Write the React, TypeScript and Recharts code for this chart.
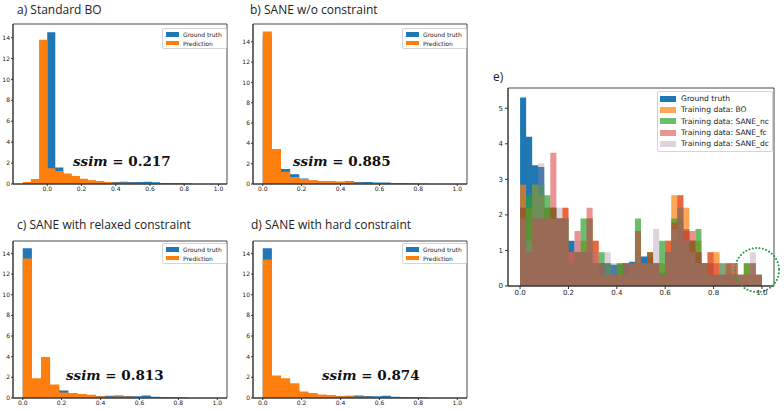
import { ComposedChart, Area, XAxis, YAxis, Legend, ReferenceDot, ReferenceArea } from 'recharts'

// shared ticks
const X_TICKS = [0, 0.2, 0.4, 0.6, 0.8, 1.0]
const SMALL_Y_TICKS = [0, 2, 4, 6, 8, 10, 12, 14]
const E_Y_TICKS = [0, 1, 2, 3, 4, 5]

// panels a-d: bins of the ground truth histogram (density)
const GT_START = 0
const GT_STEP = 0.047

const gtA = [14.5, 1.57, 0.9, 0.6, 0.4, 0.3, 0.25, 0.2, 0.18, 0.22, 0.2, 0.19, 0.22, 0.17, 0.1, 0.08, 0.06, 0.05]
const predA = [0.19, 0.48, 13.8, 1.5, 1.25, 1.0, 0.77, 0.51, 0.35, 0.29, 0.19, 0.13, 0.13, 0.13, 0.1, 0.1, 0.07, 0.04, 0.03, 0.02]

const gtB = [14.5, 1.57, 1.48, 0.95, 0.55, 0.35, 0.3, 0.25, 0.22, 0.26, 0.2, 0.2, 0.16, 0.16, 0.07, 0.07, 0.05, 0.03]
const predB = [15, 3.45, 1.2, 0.7, 0.5, 0.36, 0.3, 0.27, 0.23, 0.2, 0.12, 0.1, 0.08, 0.06, 0.04, 0.02, 0.01, 0]

const gtC = [14.5, 1.57, 1.2, 0.9, 0.73, 0.4, 0.3, 0.24, 0.2, 0.22, 0.24, 0.2, 0.18, 0.24, 0.12, 0.08, 0.06, 0.05]
const predC = [13.5, 1.92, 3.96, 1.31, 0.54, 0.48, 0.38, 0.32, 0.16, 0.13, 0.15, 0.15, 0.1, 0.1, 0.07, 0.05, 0.03, 0.02]

const gtD = [14.5, 1.57, 1.2, 0.9, 0.5, 0.4, 0.3, 0.24, 0.2, 0.22, 0.24, 0.2, 0.18, 0.22, 0.12, 0.08, 0.06, 0.05]
const predD = [13.4, 2.17, 1.92, 1.44, 0.64, 0.48, 0.35, 0.26, 0.16, 0.16, 0.13, 0.13, 0.1, 0.1, 0.08, 0.05, 0.03, 0.02]

// panel e: 40 bins of 0.025 from 0 to 1
const E_STEP = 0.025
const eGT = [5.3, 4.2, 3.4, 3.35, 2.2, 2.2, 1.9, 1.9, 1.27, 0.95, 0.95, 0.95, 0.64, 0.64, 0.64, 0.6, 0.6, 0.64, 0.68, 0.64, 0.83, 0.83, 0.64, 0.38, 0.95, 1.27, 1.9, 1.6, 1.27, 0.95, 0.64, 0.64, 0.32, 0.32, 0.32, 0.32, 0.06, 0.06, 0.06, 0.06]
const eBO = [2.85, 2.2, 2.85, 2.55, 2.2, 2.2, 1.9, 2.2, 0.95, 0.95, 1.27, 1.9, 1.27, 0.32, 0.32, 0.32, 0.64, 0.32, 0.64, 0.95, 0.64, 0.95, 0.64, 0.64, 1.27, 2.55, 2.55, 2.2, 1.27, 1.27, 0.64, 0.95, 0.95, 0.32, 0.32, 0.64, 0.32, 0.64, 0.32, 0.32]
const eNC = [2.2, 2.55, 2.85, 2.85, 2.55, 2.2, 1.9, 1.9, 0.64, 0.95, 1.9, 1.9, 0.64, 0.95, 0.64, 0.32, 0.64, 0.64, 0.64, 1.9, 0.64, 0.95, 0.64, 1.27, 0.95, 1.9, 2.2, 1.27, 1.27, 1.6, 0.64, 0.32, 0.32, 0.64, 0.64, 0.32, 0.32, 0.64, 0.64, 0.32]
const eFC = [2.2, 0.95, 1.9, 1.9, 1.9, 3.75, 1.9, 2.2, 0.95, 1.55, 0.95, 2.2, 1.27, 0.64, 0.32, 0.32, 0.32, 0.64, 0.64, 1.55, 0.64, 0.95, 0.64, 0.32, 1.27, 1.78, 2.55, 1.55, 1.55, 0.95, 0.64, 0.95, 0.64, 0.32, 0.64, 0.64, 0.32, 0.32, 0.64, 0.32]
const eDC = [1.9, 1.27, 2.85, 3.45, 1.9, 1.9, 2.2, 1.9, 0.95, 1.27, 0.95, 1.9, 0.95, 0.64, 0.95, 0.64, 0.32, 0.64, 0.64, 0.95, 0.64, 0.64, 1.6, 0.32, 0.95, 1.6, 2.2, 1.27, 0.95, 0.64, 0.64, 0.32, 0.32, 0.64, 0.32, 0.64, 0.32, 0.32, 0.95, 0.32]

const BLUE = '#1f77b4'
const ORANGE = '#ff7f0e'
const AXIS = '#333'
const SANS = 'DejaVu Sans'

type Hist = { key: string; start: number; step: number; values: number[] }
type Row = { x: number; [k: string]: number }

// step-histogram rows: one point per bin edge, closing edge drops to 0
function histRows(hists: Hist[]): Row[] {
  const byX = new Map<number, Row>()
  for (const h of hists) {
    ;[...h.values, 0].forEach((v, i) => {
      const x = Math.round((h.start + i * h.step) * 1e4) / 1e4
      const row = byX.get(x) ?? { x }
      row[h.key] = v
      byX.set(x, row)
    })
  }
  return [...byX.values()].sort((a, b) => a.x - b.x)
}

const fmt1 = (v: number) => v.toFixed(1)

type LegendItem = { name: string; color: string; opacity: number }

function LegendBox(props: {
  items: LegendItem[]
  fontSize: number
  rowH: number
  patchW: number
  patchH: number
  padX: number
  gap: number
}) {
  const { items, fontSize, rowH, patchW, patchH, padX, gap } = props
  return (
    <div
      style={{
        background: 'rgba(255,255,255,0.85)',
        border: '1px solid #d4d4d4',
        borderRadius: 2,
        padding: `1px ${padX + 1}px 1px ${padX}px`,
        fontFamily: SANS,
        fontSize,
        color: '#222',
      }}
    >
      {items.map((it) => (
        <div key={it.name} style={{ display: 'flex', alignItems: 'center', height: rowH, whiteSpace: 'nowrap' }}>
          <span
            style={{
              display: 'inline-block',
              width: patchW,
              height: patchH,
              background: it.color,
              opacity: it.opacity,
              marginRight: gap,
            }}
          />
          {it.name}
        </div>
      ))}
    </div>
  )
}

const SMALL_LEGEND: LegendItem[] = [
  { name: 'Ground truth', color: BLUE, opacity: 1 },
  { name: 'Prediction', color: ORANGE, opacity: 1 },
]

type PanelSpec = {
  left: number
  top: number
  height: number
  title: string
  titleX: number
  titleY: number
  ssim: string
  ssimX: number
  ssimY: number
  legendTop: number
  xDomain: [number, number]
  yMax: number
  gt: number[]
  pred: number[]
  predStart: number
  predStep: number
}

const PANELS: PanelSpec[] = [
  { left: 0, top: 0, height: 196, title: 'a) Standard BO', titleX: 17, titleY: 2, ssim: '0.217', ssimX: 73, ssimY: 161, legendTop: 28, xDomain: [-0.2, 1.05], yMax: 15.3, gt: gtA, pred: predA, predStart: -0.143, predStep: 0.0477 },
  { left: 240, top: 0, height: 196, title: 'b) SANE w/o constraint', titleX: 10, titleY: 2, ssim: '0.885', ssimX: 53, ssimY: 161, legendTop: 28, xDomain: [-0.05, 1.05], yMax: 15.75, gt: gtB, pred: predB, predStart: 0, predStep: GT_STEP },
  { left: 0, top: 217, height: 193, title: 'c) SANE with relaxed constraint', titleX: 17, titleY: 0, ssim: '0.813', ssimX: 66, ssimY: 158, legendTop: 26, xDomain: [-0.05, 1.05], yMax: 15.2, gt: gtC, pred: predC, predStart: 0, predStep: GT_STEP },
  { left: 240, top: 217, height: 193, title: 'd) SANE with hard constraint', titleX: 11, titleY: 0, ssim: '0.874', ssimX: 82, ssimY: 158, legendTop: 26, xDomain: [-0.05, 1.05], yMax: 15.2, gt: gtD, pred: predD, predStart: 0, predStep: GT_STEP },
]

const titleStyle = (x: number, y: number): React.CSSProperties => ({
  position: 'absolute',
  left: x,
  top: y,
  fontFamily: '"Open Sans"',
  fontSize: 12,
  lineHeight: '16px',
  color: '#222',
  whiteSpace: 'nowrap',
})

// full matplotlib-style box around the plot area
function frame(xDomain: [number, number], yMax: number) {
  return (
    <ReferenceArea
      x1={xDomain[0]}
      x2={xDomain[1]}
      y1={0}
      y2={yMax}
      ifOverflow="visible"
      fill="none"
      fillOpacity={0}
      stroke={AXIS}
      strokeWidth={0.9}
    />
  )
}

function SmallPanel({ p }: { p: PanelSpec }) {
  const rows = histRows([
    { key: 'gt', start: GT_START, step: GT_STEP, values: p.gt },
    { key: 'pred', start: p.predStart, step: p.predStep, values: p.pred },
  ])
  const tick = { fontSize: 6, fill: '#222', fontFamily: SANS }
  return (
    <div style={{ position: 'absolute', left: p.left, top: p.top, width: 240, height: p.height }}>
      <ComposedChart width={240} height={p.height} data={rows} margin={{ top: 24, right: 13, bottom: 0, left: 0 }}>
        <XAxis dataKey="x" type="number" domain={p.xDomain} ticks={X_TICKS} tickFormatter={fmt1} allowDataOverflow height={12} tickSize={2} tickMargin={1} stroke={AXIS} tick={tick} />
        <YAxis type="number" domain={[0, p.yMax]} ticks={SMALL_Y_TICKS} allowDataOverflow width={13} tickSize={2} tickMargin={1} stroke={AXIS} tick={tick} />
        <Area type="stepAfter" dataKey="gt" connectNulls stroke="none" fill={BLUE} fillOpacity={1} dot={false} activeDot={false} isAnimationActive={false} />
        <Area type="stepAfter" dataKey="pred" connectNulls stroke="none" fill={ORANGE} fillOpacity={1} dot={false} activeDot={false} isAnimationActive={false} />
        {frame(p.xDomain, p.yMax)}
        <Legend
          layout="vertical"
          align="center"
          verticalAlign="middle"
          wrapperStyle={{ left: 162, top: p.legendTop, width: 'auto' }}
          content={() => <LegendBox items={SMALL_LEGEND} fontSize={6} rowH={8.7} patchW={13} patchH={4.5} padX={3} gap={4} />}
        />
      </ComposedChart>
      <div style={titleStyle(p.titleX, p.titleY)}>{p.title}</div>
      <div
        style={{
          position: 'absolute',
          left: p.ssimX,
          top: p.ssimY,
          transform: 'translateY(-50%)',
          fontFamily: '"DejaVu Serif"',
          fontWeight: 'bold',
          fontSize: 13.5,
          color: '#111',
          whiteSpace: 'nowrap',
        }}
      >
        <i>ssim</i> = {p.ssim}
      </div>
    </div>
  )
}

const E_SERIES = [
  { key: 'gt', name: 'Ground truth', color: BLUE, opacity: 1, values: eGT },
  { key: 'bo', name: 'Training data: BO', color: ORANGE, opacity: 0.7, values: eBO },
  { key: 'nc', name: 'Training data: SANE_nc', color: '#2ca02c', opacity: 0.7, values: eNC },
  { key: 'fc', name: 'Training data: SANE_fc', color: '#d62728', opacity: 0.5, values: eFC },
  { key: 'dc', name: 'Training data: SANE_dc', color: '#a080a0', opacity: 0.35, values: eDC },
]

const E_X_DOMAIN: [number, number] = [-0.05, 1.05]
const E_Y_MAX = 5.57

function PanelE() {
  const rows = histRows(E_SERIES.map((s) => ({ key: s.key, start: 0, step: E_STEP, values: s.values })))
  const tick = { fontSize: 7, fill: '#222', fontFamily: SANS }
  return (
    <div style={{ position: 'absolute', left: 490, top: 60, width: 294, height: 240 }}>
      <ComposedChart width={294} height={240} data={rows} margin={{ top: 28, right: 10, bottom: 0, left: 4 }}>
        <XAxis dataKey="x" type="number" domain={E_X_DOMAIN} ticks={X_TICKS} tickFormatter={fmt1} allowDataOverflow height={14} tickSize={3} tickMargin={1} stroke={AXIS} tick={tick} />
        <YAxis type="number" domain={[0, E_Y_MAX]} ticks={E_Y_TICKS} allowDataOverflow width={14} tickSize={3} tickMargin={2} stroke={AXIS} tick={tick} />
        {E_SERIES.map((s) => (
          <Area
            key={s.key}
            type="stepAfter"
            dataKey={s.key}
            name={s.name}
            stroke="none"
            fill={s.color}
            fillOpacity={s.opacity}
            dot={false}
            activeDot={false}
            isAnimationActive={false}
          />
        ))}
        {frame(E_X_DOMAIN, E_Y_MAX)}
        <ReferenceDot
          x={0.98}
          y={0.45}
          r={22}
          ifOverflow="visible"
          fill="none"
          stroke="#2e9e4f"
          strokeWidth={2}
          strokeDasharray="0.1 3.3"
          strokeLinecap="round"
        />
        <Legend
          layout="vertical"
          align="center"
          verticalAlign="middle"
          wrapperStyle={{ left: 167, top: 31, width: 'auto' }}
          content={() => (
            <LegendBox
              items={E_SERIES.map((s) => ({ name: s.name, color: s.color, opacity: s.opacity }))}
              fontSize={7.6}
              rowH={11.33}
              patchW={16}
              patchH={6}
              padX={2}
              gap={5}
            />
          )}
        />
      </ComposedChart>
      <div style={titleStyle(3, 9)}>e)</div>
    </div>
  )
}

export default function App() {
  return (
    <div style={{ position: 'absolute', left: 0, top: 0, width: 784, height: 411, overflow: 'hidden', background: '#fff' }}>
      {PANELS.map((p) => (
        <SmallPanel key={p.title} p={p} />
      ))}
      <PanelE />
    </div>
  )
}
